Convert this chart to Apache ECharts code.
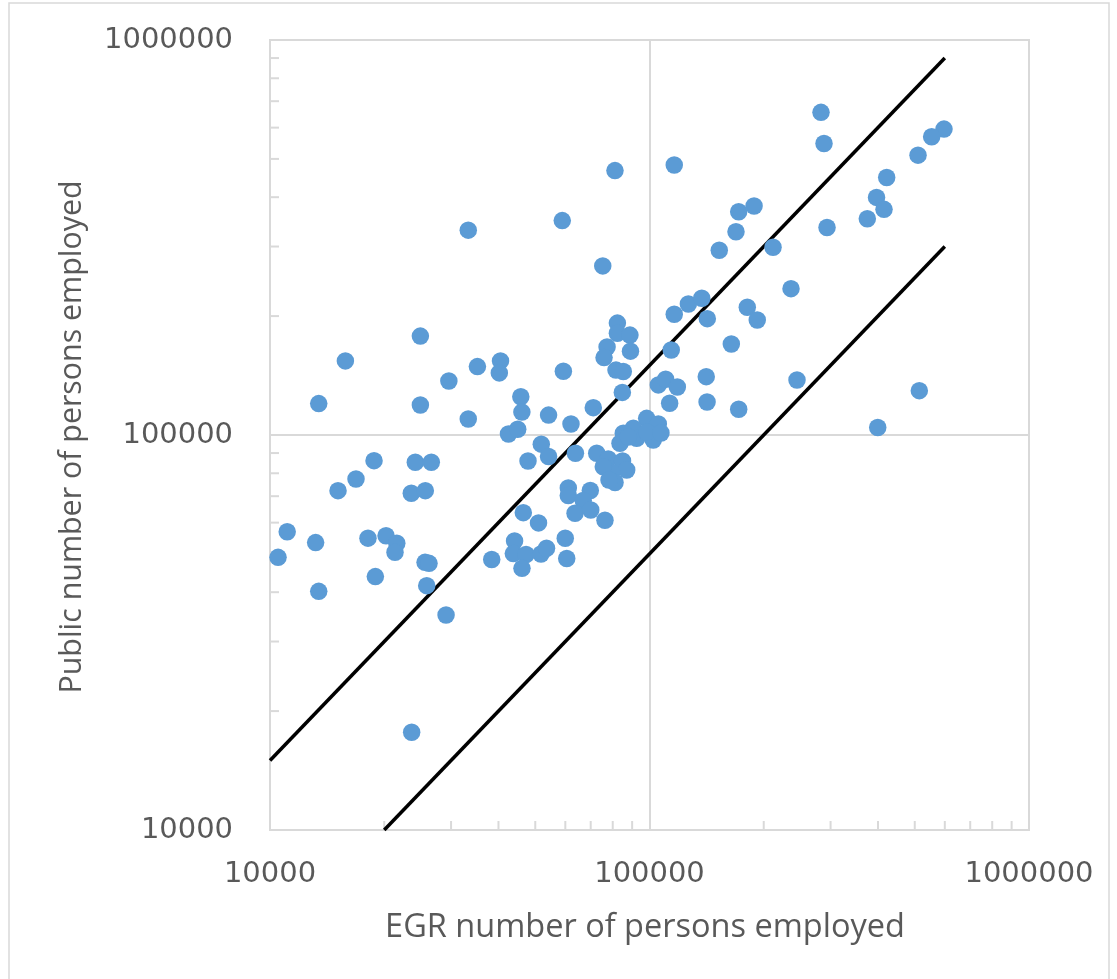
<!DOCTYPE html>
<html>
<head>
<meta charset="utf-8">
<script src="https://cdn.jsdelivr.net/npm/echarts@6/dist/echarts.min.js"></script>
<style>
  html, body { margin: 0; padding: 0; background: #ffffff; }
  #chart { width: 1117px; height: 979px; }
</style>
</head>
<body>
<div id="chart"></div>
<script>
// ---- Data ----
const egrValues = [
  81100, 58900, 33300, 75300, 82300, 82300, 88800, 77300, 89100, 75900,
  24900, 15800, 35200, 40500, 40200, 29600, 59300, 81600, 85300, 84800,
  13440, 24900, 45800, 46100, 33300, 54200, 62100, 71100, 42500, 44950,
  51860, 54200, 47850, 63800, 72600, 18800, 16850, 15110, 24150, 26610,
  23570, 25660, 46500, 51000, 11100, 10500, 13190, 18120, 20220, 21580,
  21350, 18950, 13440, 25620, 26240, 25880, 29100, 38390, 44100, 43770,
  47280, 46130, 51770, 53540, 59980, 60520, 23620, 61100, 61100, 69830,
  66900, 63650, 70020, 76320, 77870, 84900, 87090, 79500, 81130, 75550,
  78210, 98300, 105500, 90650, 85300, 83600, 92520, 102300, 98300, 87930,
  107200, 116200, 283100, 288300, 597000, 554000, 510000, 421700, 396500, 414900,
  374900, 293600, 171800, 188600, 169000, 152700, 211600, 236000, 126600, 137300,
  116200, 142000, 181000, 192300, 164300, 114100, 105500, 110300, 118400, 141100,
  113000, 141800, 171800, 244700, 514000, 399400
];
const publicValues = [
  467000, 349000, 330000, 268000, 192000, 181000, 179000, 167000, 163000, 157000,
  178000, 154000, 149000, 154000, 143600, 137000, 145000, 146000, 144800, 128200,
  120100, 119100, 125000, 114300, 109800, 112300, 106600, 117300, 100600, 103400,
  94800, 88200, 85950, 89900, 89900, 86100, 77400, 72300, 85300, 85300,
  71200, 72300, 63600, 59900, 56900, 49000, 53400, 54800, 55600, 53200,
  50500, 43800, 40200, 47600, 47330, 41550, 35020, 48400, 53900, 50100,
  49830, 45960, 49970, 51670, 54760, 48670, 17680, 73400, 70300, 72370,
  68290, 63360, 64570, 60820, 86960, 85960, 81530, 80350, 75810, 83100,
  76930, 110200, 106600, 103990, 101000, 95280, 98080, 97130, 101800, 98830,
  101200, 482600, 656000, 547000, 595000, 569000, 511000, 448700, 399500, 372700,
  352800, 335200, 367500, 380000, 327100, 293500, 298700, 234700, 214600, 221900,
  202100, 197000, 210600, 195500, 170000, 164100, 133900, 138400, 132300, 140500,
  120300, 121200, 116200, 137800, 129500, 104500
];
// Reference lines (y = 1.5x and y = 0.5x)
const upperLineX = [10000, 600000];
const upperLineY = [15000, 900000];
const lowerLineX = [20000, 600000];
const lowerLineY = [10000, 300000];
// Axis range and tick labels
const axisMin = 10000;
const axisMax = 1000000;
const tickLabels = ['10000', '100000', '1000000'];
const minorTickMultipliers = [2, 3, 4, 5, 6, 7, 8, 9];
const minorTickDecades = [10000, 100000];
const xTitle = 'EGR number of persons employed';
const yTitle = 'Public number of persons employed';

// ---- build ----
const scatterData = egrValues.map((x, i) => [x, publicValues[i]]);
const upperData = upperLineX.map((x, i) => [x, upperLineY[i]]);
const lowerData = lowerLineX.map((x, i) => [x, lowerLineY[i]]);
const minorValues = [];
minorTickDecades.forEach(d => minorTickMultipliers.forEach(m => minorValues.push(d * m)));
const tickData = [];
minorValues.forEach(v => { tickData.push([v, axisMin, 0]); tickData.push([axisMin, v, 1]); });

const mctx = document.createElement('canvas').getContext('2d');
function fitSize(text, family, targetW) {
  mctx.font = '40px ' + family;
  return 40 * targetW / mctx.measureText(text).width;
}
const titleFamily = '"Open Sans", sans-serif';
const labelFamily = '"DejaVu Sans", sans-serif';
const xTitleSize = fitSize(xTitle, titleFamily, 520);
const yTitleSize = fitSize(yTitle, titleFamily, 513);
const labelSize = fitSize('1000000', labelFamily, 129);

function fmt(v) {
  const r = Math.round(v);
  const s = String(r);
  return tickLabels.indexOf(s) >= 0 ? s : '';
}

const chart = echarts.init(document.getElementById('chart'), null, { renderer: 'canvas' });
const gridColor = '#d9d9d9';
const textColor = '#595959';

chart.setOption({
  animation: false,
  backgroundColor: '#ffffff',
  grid: {
    left: 270, right: 88, top: 40, bottom: 149,
    show: true, borderColor: gridColor, borderWidth: 2, containLabel: false
  },
  xAxis: {
    type: 'log', logBase: 10, min: axisMin, max: axisMax,
    axisLine: { show: false },
    axisTick: { show: false },
    splitLine: { show: true, lineStyle: { color: gridColor, width: 2 } },
    axisLabel: {
      color: textColor, fontFamily: labelFamily, fontSize: labelSize,
      margin: 30, formatter: fmt, showMinLabel: true, showMaxLabel: true
    }
  },
  yAxis: {
    type: 'log', logBase: 10, min: axisMin, max: axisMax,
    axisLine: { show: false },
    axisTick: { show: false },
    splitLine: { show: true, lineStyle: { color: gridColor, width: 2 } },
    axisLabel: {
      color: textColor, fontFamily: labelFamily, fontSize: labelSize,
      margin: 37, formatter: fmt, showMinLabel: true, showMaxLabel: true
    }
  },
  graphic: [
    {
      type: 'rect', silent: true, z: -10,
      shape: { x: 9, y: 3, width: 1100, height: 1000 },
      style: { fill: 'none', stroke: gridColor, lineWidth: 1.5 }
    },
    {
      type: 'text', silent: true, x: 645, y: 928,
      style: {
        text: xTitle, fill: textColor, align: 'center', verticalAlign: 'middle',
        font: xTitleSize.toFixed(2) + 'px ' + titleFamily
      }
    },
    {
      type: 'text', silent: true, x: 72, y: 437, rotation: Math.PI / 2,
      style: {
        text: yTitle, fill: textColor, align: 'center', verticalAlign: 'middle',
        font: yTitleSize.toFixed(2) + 'px ' + titleFamily
      }
    }
  ],
  series: [
    {
      type: 'custom', silent: true, z: 1,
      data: tickData,
      renderItem: function (params, api) {
        const p = api.coord([api.value(0), api.value(1)]);
        const kind = api.value(2);
        const shape = kind === 0
          ? { x1: p[0], y1: p[1], x2: p[0], y2: p[1] - 9 }
          : { x1: p[0], y1: p[1], x2: p[0] + 9, y2: p[1] };
        return { type: 'line', shape: shape, style: { stroke: gridColor, lineWidth: 2 } };
      }
    },
    {
      type: 'line', data: upperData, showSymbol: false, silent: true, z: 2,
      lineStyle: { color: '#000000', width: 3.5 }
    },
    {
      type: 'line', data: lowerData, showSymbol: false, silent: true, z: 2,
      lineStyle: { color: '#000000', width: 3.5 }
    },
    {
      type: 'scatter', data: scatterData, symbol: 'circle', symbolSize: 17.5, z: 3,
      itemStyle: { color: '#5b9bd5', opacity: 1 }
    }
  ]
});
</script>
</body>
</html>
